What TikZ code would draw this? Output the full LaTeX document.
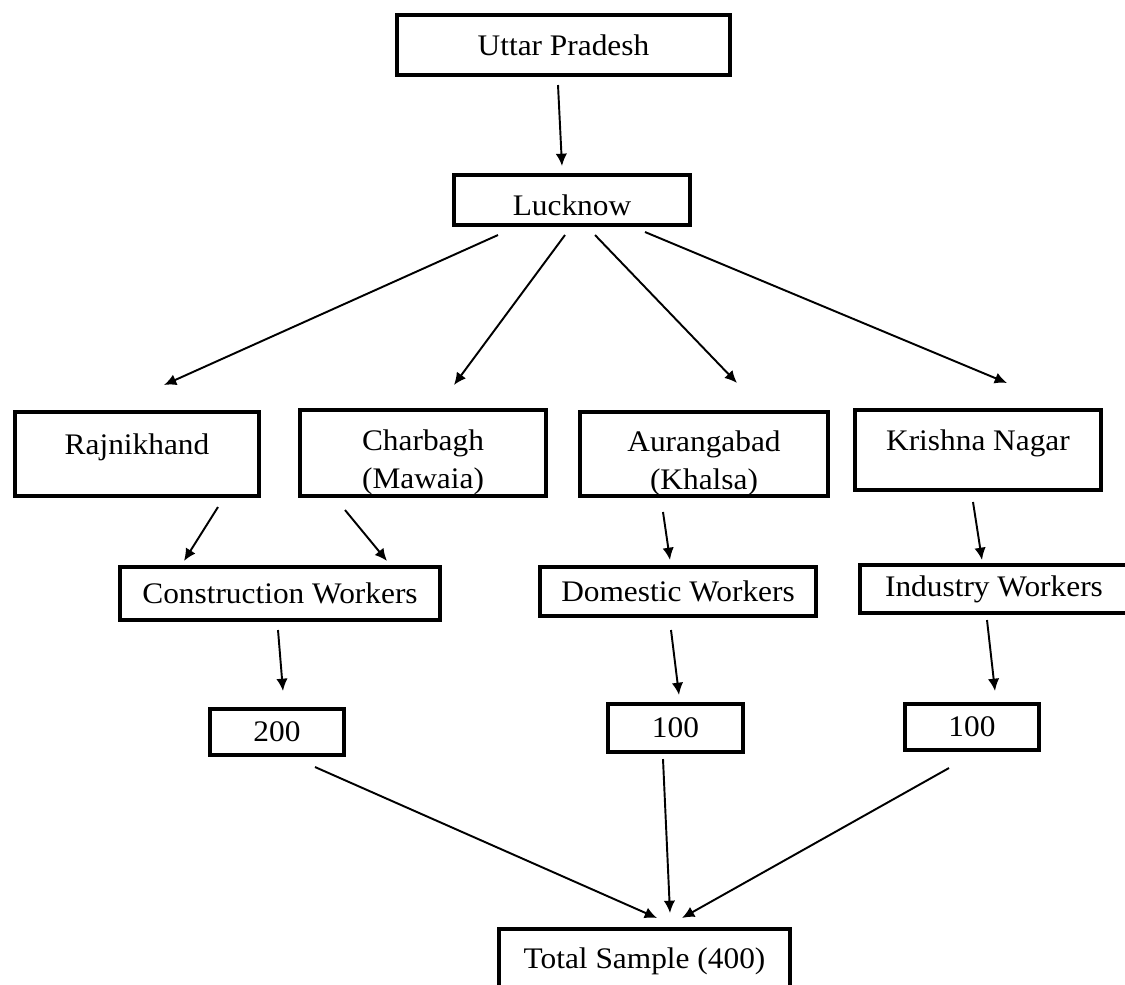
\documentclass[tikz,border=0pt]{standalone}
\usepackage{fontspec}
\setmainfont{Liberation Serif}[FakeStretch=1.05]
\usepackage{tikz}
\usetikzlibrary{arrows.meta,positioning,calc}
\newcommand{\topgap}{\rule{0pt}{22pt}}

\begin{document}
\begin{tikzpicture}[
    x=0.02cm,y=-0.02cm,
    box/.style={rectangle,draw,line width=2.3pt,align=center,inner sep=0pt,font=\fontsize{17}{21.5}\selectfont},
    arr/.style={->,line width=1.1pt},
    >={Latex[length=7pt,width=6.5pt]}]
    \useasboundingbox (0,0) rectangle (1125,984);
    % top of the tree
    \node[box,minimum width=6.66cm,minimum height=1.2cm] (up) at (563.5,45) {Uttar Pradesh};
    \node[box,minimum width=4.72cm,minimum height=1.0cm] (luck) at (572,200) {\rule{0pt}{18pt}Lucknow};
    % areas
    \node[box,minimum width=4.88cm,minimum height=1.68cm] (raj) at (137,454) {\topgap Rajnikhand\\ \mbox{}};
    \node[box,minimum width=4.92cm,minimum height=1.72cm] (cb) at (423,453) {\topgap Charbagh\\(Mawaia)};
    \node[box,minimum width=4.96cm,minimum height=1.68cm] (aur) at (704,454) {\topgap Aurangabad\\(Khalsa)};
    \node[box,minimum width=4.92cm,minimum height=1.6cm] (kn) at (978,450) {\topgap Krishna Nagar\\ \mbox{}};
    % workers
    \node[box,minimum width=6.4cm,minimum height=1.06cm] (cw) at (280,593.5) {Construction Workers};
    \node[box,minimum width=5.52cm,minimum height=0.98cm] (dw) at (678,591.5) {Domestic Workers};
    \node[box,minimum width=5.36cm,minimum height=0.96cm] (iw) at (994,589) {Industry Workers};
    % samples
    \node[box,minimum width=2.68cm,minimum height=0.92cm] (s200) at (277,732) {200};
    \node[box,minimum width=2.7cm,minimum height=0.96cm] (s100a) at (675.5,728) {100};
    \node[box,minimum width=2.68cm,minimum height=0.92cm] (s100b) at (972,727) {100};
    \node[box,minimum width=5.82cm,minimum height=1.28cm] (tot) at (644.5,961) {Total Sample (400)};

    \draw[arr] ($(up.south)+(-5.5,8)$) -- ($(luck.north)+(-10,-7)$);
    \draw[arr] ($(luck.south)+(-74,8)$) -- ($(raj.north)+(27,-25)$);
    \draw[arr] ($(luck.south)+(-7,8)$) -- ($(cb.north)+(31,-23)$);
    \draw[arr] ($(luck.south)+(23,8)$) -- ($(aur.north)+(33,-27)$);
    \draw[arr] ($(luck.south)+(73,5)$) -- ($(kn.north)+(29,-25)$);

    \draw[arr] ($(raj.south)+(81,9)$) -- ($(cw.north)+(-96,-4)$);
    \draw[arr] ($(cb.south)+(-78,12)$) -- ($(cw.north)+(107,-4)$);
    \draw[arr] ($(aur.south)+(-41,14)$) -- ($(dw.north)+(-8,-5)$);
    \draw[arr] ($(kn.south)+(-5,10)$) -- ($(iw.north)+(-12,-3)$);

    \draw[arr] ($(cw.south)+(-2,8)$) -- ($(s200.north)+(6,-16)$);
    \draw[arr] ($(dw.south)+(-7,12)$) -- ($(s100a.north)+(3.5,-7)$);
    \draw[arr] ($(iw.south)+(-7,5)$) -- ($(s100b.north)+(23,-11)$);

    \draw[arr] ($(s200.south)+(38,10)$) -- ($(tot.north)+(12.5,-9)$);
    \draw[arr] ($(s100a.south)+(-12.5,5)$) -- ($(tot.north)+(25.5,-14)$);
    \draw[arr] ($(s100b.south)+(-23,16)$) -- ($(tot.north)+(37.5,-9)$);
  \end{tikzpicture}
\end{document}
